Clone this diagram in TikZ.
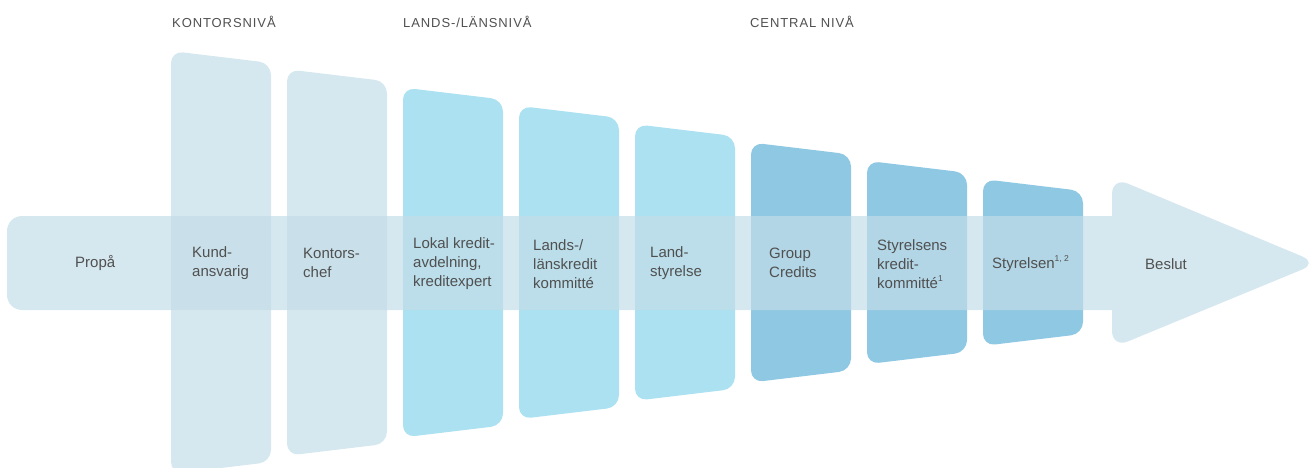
\documentclass[tikz,border=0pt]{standalone}
\usepackage{fontspec}
\setmainfont{Liberation Sans}

\definecolor{panellight}{HTML}{D6E8EF}
\definecolor{panelcyan}{HTML}{ABE1F0}
\definecolor{panelblue}{HTML}{8FC8E3}
\definecolor{flow}{HTML}{C3DDE8}
\definecolor{txtgray}{HTML}{505050}

\newcommand{\fnmark}[1]{\raisebox{0.9ex}{\fontsize{8.5}{9}\selectfont #1}}

\tikzstyle{panelshape} = [rounded corners=12pt]
\tikzstyle{boxtext} = [anchor=west, align=left, inner sep=0pt, text=txtgray, font=\fontsize{15}{19}\selectfont]
\tikzstyle{leveltext} = [anchor=west, inner sep=0pt, text=txtgray, font=\fontsize{13}{15}\selectfont\addfontfeature{LetterSpace=7}]

\begin{document}
\begin{tikzpicture}[x = 1pt, y = -1pt]

% ----------------------------------------------------
\useasboundingbox (0,0) rectangle (1310,468);

% panels (the taller the further left)
\foreach \k/\col in {0/panellight,1/panellight,2/panelcyan,3/panelcyan,4/panelcyan,5/panelblue,6/panelblue,7/panelblue}{
  \pgfmathsetmacro{\xl}{171+116*\k}
  \pgfmathsetmacro{\xr}{\xl+100}
  \pgfmathsetmacro{\yt}{51+18.3*\k}
  \fill[panelshape,\col] (\xl,\yt) -- (\xr,\yt+12) -- (\xr,525-\yt-12) -- (\xl,525-\yt) -- cycle;
}

% the big arrow
\fill[flow, opacity=0.68, rounded corners=15pt] (7,216) rectangle (1140,310);
\fill[flow!68!white, rounded corners=17pt] (1112,263) -- (1112,177) -- (1318,263) -- (1112,348) -- cycle;

% levels
\node (kontorsniva) [leveltext] at (172,22) {KONTORSNIVÅ};
\node (lansniva) [leveltext] at (403,22) {LANDS-/LÄNSNIVÅ};
\node (centralniva) [leveltext] at (750,22) {CENTRAL NIVÅ};

% steps
\node (propa) [boxtext] at (75,263) {Propå};
\node (kund) [boxtext] at (192,263) {Kund-\\ansvarig};
\node (kontor) [boxtext] at (303,263) {Kontors-\\chef};
\node (lokal) [boxtext] at (413,264) {Lokal kredit-\\avdelning,\\kreditexpert};
\node (lands) [boxtext] at (533,264) {Lands-/\\länskredit\\kommitté};
\node (landst) [boxtext] at (650,263) {Land-\\styrelse};
\node (group) [boxtext] at (769,263) {Group\\Credits};
\node (styrkom) [boxtext] at (877,264) {Styrelsens\\kredit-\\kommitté\fnmark{1}};
\node (styr) [boxtext] at (992,264) {Styrelsen\fnmark{1, 2}};
\node (beslut) [boxtext] at (1145,264) {Beslut};

\end{tikzpicture}
\end{document}
